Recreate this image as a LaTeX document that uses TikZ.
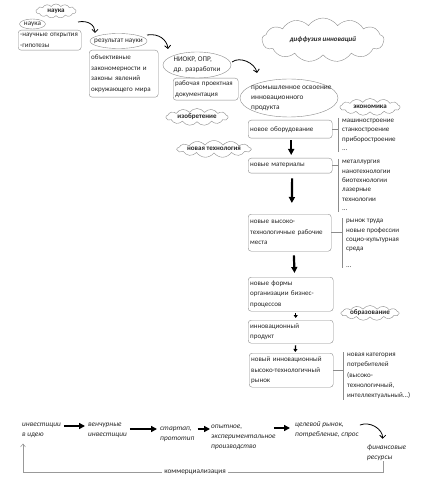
\documentclass[tikz,border=0pt]{standalone}
\usepackage{fontspec}
\setmainfont{Carlito}
\usetikzlibrary{shapes.geometric,shapes.symbols,arrows.meta,calc}
\begin{document}
\begin{tikzpicture}[x=1pt,y=-1pt,
 every node/.style={text=black!85},
 txt/.style={font=\fontsize{7.2}{9.5}\selectfont, inner sep=0pt, align=left},
 box/.style={draw=black!45, rounded corners=3pt, align=left, anchor=north west, inner xsep=2pt, inner ysep=2pt, font=\fontsize{7}{10.5}\selectfont},
 ell/.style={ellipse, draw=black!45, inner sep=0pt},
 cld/.style={cloud, cloud puffs=13, cloud puff arc=110, cloud ignores aspect, draw=black!45, inner sep=0pt},
 cldt/.style={font=\fontsize{7}{8}\selectfont\bfseries, inner sep=0pt},
 lst/.style={anchor=north west, align=left, inner xsep=4pt, inner ysep=1pt, font=\fontsize{7}{9.4}\selectfont},
 brk/.style={draw=black!45, line width=0.5pt},
 big/.style={line width=2.2pt, -{Triangle[length=6pt,width=6pt]}},
 sml/.style={line width=1.3pt, -{Triangle[length=3pt,width=4pt]}},
 crv/.style={line width=0.8pt, -{Straight Barb[length=3pt,width=6pt]}},
 fb/.style={draw=black!40, line width=0.5pt, -{Straight Barb[length=3pt,width=5pt]}},
 itx/.style={font=\fontsize{7.3}{10}\selectfont\itshape, inner sep=0pt, align=left, anchor=west}
]
\fill[white] (0,0) rectangle (425,486);
\useasboundingbox (0,0) rectangle (425,486);

% clouds
\node[cld, minimum width=40pt, minimum height=14pt] (cn) at (56,11) {};
\node[cldt] (cn-t) at (cn) {наука};
\node[cld, minimum width=122pt, minimum height=44pt] (cd) at (323,40) {};
\node[cldt, font=\fontsize{7}{8}\selectfont\bfseries\itshape] (cd-t) at (cd) {диффузия инноваций};
\node[cld, minimum width=60pt, minimum height=17pt] (ce) at (370,107) {};
\node[cldt] (ce-t) at (ce) {экономика};
\node[cld, minimum width=62pt, minimum height=17pt] (ci) at (197,117) {};
\node[cldt] (ci-t) at (ci) {изобретение};
\node[cld, minimum width=74pt, minimum height=17pt] (ct) at (214,149) {};
\node[cldt] (ct-t) at (ct) {новая технология};
\node[cld, minimum width=58pt, minimum height=15pt] (co) at (370,313) {};
\node[cldt] (co-t) at (co) {образование};

% ellipses
\node[ell, minimum width=26pt, minimum height=10pt] (en) at (32.5,24) {};
\node[txt] (en-t) at (en) {наука};
\node[ell, minimum width=57pt, minimum height=15pt] (er) at (118.5,41) {};
\node[txt] (er-t) at (er) {результат науки};
\node[ell, minimum width=68pt, minimum height=26pt] (eni) at (197,65) {};
\node[txt] (eni-t) at (eni) {НИОКР, ОПР,\\др. разработки};
\node[ell, minimum width=98pt, minimum height=38pt] (ep) at (289,98) {};
\node[txt, anchor=west, font=\fontsize{7.3}{10}\selectfont] (ep-t) at (251,98) {промышленное освоение\\инновационного\\продукта};

% boxes
\node[box, text width=59pt, minimum height=20pt] (nl) at (18,30) {-научные открытия\\-гипотезы};
\node[box, text width=65pt, minimum height=47pt] (obj) at (89,50) {объективные\\закономерности и\\законы явлений\\окружающего мира};
\node[box, text width=61pt, minimum height=22pt] (rab) at (173,78) {рабочая проектная\\документация};
\node[box, text width=80pt, minimum height=18pt] (obor) at (248,120) {новое оборудование};
\node[box, text width=80pt, minimum height=15pt] (mat) at (248,158) {новые материалы};
\node[box, text width=79pt, minimum height=37pt] (rm) at (248,214) {новые высоко-\\технологичные рабочие\\места};
\node[box, text width=81pt, minimum height=34pt] (form) at (248,277) {новые формы\\организации бизнес-\\процессов};
\node[box, text width=81pt, minimum height=23pt] (prod) at (248,320) {инновационный\\продукт};
\node[box, text width=80pt, minimum height=34pt] (ryn) at (249,353) {новый инновационный\\высоко-технологичный\\рынок};

% lists
\node[lst] (l1) at (338,118) {машиностроение\\станкостроение\\приборостроение\\...};
\node[lst] (l2) at (338,159) {металлургия\\нанотехнологии\\биотехнологии\\лазерные\\технологии\\...};
\node[lst] (l3) at (342,218) {рынок труда\\новые профессии\\социо-культурная\\среда\\[7pt]...};
\node[lst, font=\fontsize{7}{10.2}\selectfont] (l4) at (343,352) {новая категория\\потребителей\\(высоко-\\технологичный,\\интеллектуальный...)};
\foreach \l in {l1,l2,l3,l4} \draw[brk] (\l.north west) -- (\l.south west);
\draw[brk] (obor.east) -- (obor.east -| l1.west);
\draw[brk] (mat.east) -- (mat.east -| l2.west);
\draw[brk] (rm.east) -- (rm.east -| l3.west);
\draw[brk] (ryn.east) -- (ryn.east -| l4.west);

% vertical arrows
\draw[big, shorten <=2pt, shorten >=3pt] ($(obor.south)+(1,0)$) -- ($(mat.north)+(1,0)$);
\draw[big, shorten <=5pt, shorten >=11pt] ($(mat.south)+(2,0)$) -- ($(rm.north)+(2,0)$);
\draw[big, shorten <=4pt, shorten >=4pt] ($(rm.south)+(4,0)$) -- ($(form.north)+(4,0)$);
\draw[sml, shorten <=2pt, shorten >=2pt] ($(form.south)+(5,0)$) -- ($(prod.north)+(5,0)$);
\draw[sml, shorten <=2pt, shorten >=1pt] ($(prod.south)+(5,0)$) -- ($(ryn.north)+(4,0)$);

% top curved arrows
\coordinate (c1s) at (78,22); \coordinate (c1e) at (95,33);
\draw[crv] (c1s) .. controls +(10,-2) and +(0,-8) .. (c1e);
\coordinate (c2s) at (147,35); \coordinate (c2e) at (168,49);
\draw[crv] (c2s) .. controls +(12,-2) and +(-1,-9) .. (c2e);
\coordinate (c3s) at (232,62); \coordinate (c3e) at (257,73);
\draw[crv] (c3s) .. controls +(8,-6) and +(-2,-10) .. (c3e);

% bottom chain
\node[itx] (inv) at (22,430) {инвестиции\\в идею};
\node[itx] (ven) at (88,430) {венчурные\\инвестиции};
\node[itx] (start) at (160,434) {стартап,\\прототип};
\node[itx] (opyt) at (211,437) {опытное,\\экспериментальное\\производство};
\node[itx] (cel) at (295,430) {целевой рынок,\\потребление, спрос};
\node[itx] (fin) at (367,453) {финансовые\\ресурсы};
\node[font=\fontsize{7.3}{9}\selectfont, inner sep=2pt, fill=white] (kom) at (195,472) {коммерциализация};

\draw[big, line width=2pt, shorten <=3pt, shorten >=3pt] ($(inv.east)+(0,-4)$) -- ($(inv.east -| ven.west)+(0,-4)$);
\draw[big, line width=2pt, shorten <=3pt, shorten >=3pt] ($(ven.east)+(0,-1)$) -- ($(ven.east -| start.west)+(0,-1)$);
\draw[big, line width=2pt, shorten <=3pt, shorten >=1pt] ($(start.east)+(0,-5)$) -- ($(start.east -| opyt.west)+(0,-5)$);
\draw[big, line width=2pt, shorten <=-2pt, shorten >=5pt] ($(opyt.east)+(0,-9)$) -- ($(opyt.east -| cel.west)+(0,-9)$);
\draw[crv] ($(cel.east)+(1,-5)$) .. controls +(10,-4) and +(0,-10) .. ($(fin.north)+(-4,-6)$);
\draw[fb] ([xshift=-3pt]fin.south) |- (kom) -| ([xshift=1pt,yshift=-6pt]inv.south west);
\end{tikzpicture}
\end{document}
